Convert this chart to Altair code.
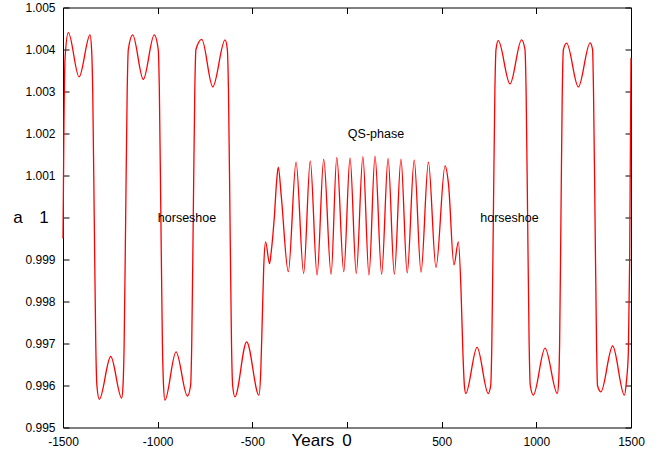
import altair as alt
import pandas as pd

# Curve samples (year, semi-major axis a)
years = [
    -1500, -1495, -1489, -1472, -1415, -1357,
    -1349, -1343, -1335, -1327, -1321, -1308,
    -1248, -1190,
    -1183, -1177, -1169, -1161, -1155, -1132,
    -1076, -1018,
    -997, -991, -983, -975, -969, -962,
    -903, -843,
    -826, -820, -812, -804, -798, -767,
    -709, -644,
    -632, -626, -618, -610, -604, -592,
    -530, -465,
    -455, -448, -440, -430,
    -409, -401, -384, -371, -363, -347,
    -310, -269, -229, -194, -158, -123, -84, -54, -17, 16, 49, 84, 116, 148,
    183, 217, 250, 285, 318, 355, 391, 430, 470, 518, 536, 565, 588,
    602, 612, 620, 627,
    687, 746,
    759, 765, 773, 781, 787, 799,
    861, 922,
    940, 946, 954, 962, 968, 984,
    1046, 1111,
    1118, 1123, 1130, 1137, 1143, 1160,
    1222, 1284,
    1297, 1302, 1310, 1318, 1323, 1341,
    1403, 1465,
    1476, 1486, 1493, 1500,
]
a_values = [
    0.9995, 1.0022, 1.0038, 1.0044, 1.00335, 1.00435,
    1.0040, 1.0030, 1.0000, 0.9970, 0.9960, 0.99567,
    0.99669, 0.99570,
    0.9960, 0.9970, 1.0000, 1.0030, 1.0040, 1.00435,
    1.00329, 1.00435,
    1.0040, 1.0030, 1.0000, 0.9970, 0.9960, 0.99565,
    0.9968, 0.99575,
    0.9960, 0.9970, 1.0000, 1.0030, 1.0040, 1.00424,
    1.00311, 1.00423,
    1.0040, 1.0030, 1.0000, 0.9970, 0.9960, 0.99573,
    0.99704, 0.99577,
    0.9964, 0.9975, 0.9988, 0.99942,
    0.99890, 0.99915, 1.0000, 1.0009, 1.0012, 1.0005,
    0.99871, 1.00132, 0.99867, 1.00135, 0.99863, 1.00139, 0.99865, 1.00143,
    0.99871, 1.00142, 0.99867, 1.00145, 0.99863, 1.00146, 0.99865, 1.00141,
    0.99865, 1.00139, 0.99868, 1.00137, 0.9987, 1.00132, 0.99881, 1.00123,
    1.0008, 0.99887, 0.99942,
    0.9983, 0.9968, 0.9960, 0.99581,
    0.99691, 0.99581,
    0.9960, 0.9970, 1.0000, 1.0030, 1.0040, 1.00421,
    1.00318, 1.00423,
    1.0040, 1.0030, 1.0000, 0.9970, 0.9960, 0.99577,
    0.99689, 0.99581,
    0.9961, 0.9970, 1.0000, 1.0030, 1.0040, 1.00415,
    1.00311, 1.00416,
    1.0040, 1.0030, 1.0000, 0.9970, 0.9960, 0.99585,
    0.99694, 0.99577,
    0.9961, 0.9968, 0.9990, 1.0038,
]

x_ticks = [-1500, -1000, -500, 0, 500, 1000, 1500]
y_ticks = [0.995, 0.996, 0.997, 0.998, 0.999, 1.0, 1.001, 1.002, 1.003, 1.004, 1.005]

note_texts = ["horseshoe", "QS-phase", "horseshoe"]
note_years = [-845, 153, 858]
note_a = [1.0, 1.002, 1.0]

df = pd.DataFrame({"year": years, "a": a_values})
notes = pd.DataFrame({"text": note_texts, "year": note_years, "a": note_a})

FONT = "Liberation Sans"
xscale = alt.Scale(domain=[-1500, 1500], nice=False, zero=False)
yscale = alt.Scale(domain=[0.995, 1.005], nice=False, zero=False)

line = alt.Chart(df).mark_line(
    color="#ff0000", strokeWidth=1.3, interpolate="monotone"
).encode(
    x=alt.X("year:Q", scale=xscale, axis=alt.Axis(
        orient="bottom", values=x_ticks, offset=-6, tickSize=6, tickColor="black",
        domain=False, grid=False, title=None, labelFont=FONT, labelFontSize=12,
        labelColor="black", labelBaseline="alphabetic", labelPadding=18,
        labelExpr="datum.value == 0 ? '' : '' + datum.value", labelFlush=False,
        labelOverlap=False)),
    y=alt.Y("a:Q", scale=yscale, axis=alt.Axis(
        orient="left", values=y_ticks, offset=-6, tickSize=6, tickColor="black",
        domain=False, grid=False, title=None, labelFont=FONT, labelFontSize=12,
        labelColor="black", labelPadding=8, labelOverlap=False,
        labelExpr="datum.value == 1 ? '' : format(datum.value, '.3f')")),
)

text_layer = alt.Chart(notes).mark_text(
    font=FONT, fontSize=12.5, color="black", align="center", baseline="middle"
).encode(
    x=alt.X("year:Q", scale=xscale, axis=alt.Axis(
        orient="top", values=x_ticks, offset=-6, tickSize=6, tickColor="black",
        labels=False, domain=False, grid=False, title=None)),
    y=alt.Y("a:Q", scale=yscale, axis=alt.Axis(
        orient="right", values=y_ticks, offset=-6, tickSize=6, tickColor="black",
        labels=False, domain=False, grid=False, title=None)),
    text="text:N",
)

side_texts = pd.DataFrame({"text": ["a", "1"], "a": [1.0, 1.0], "px": [-45, -19]})
side_label = alt.Chart(side_texts).mark_text(
    font=FONT, fontSize=17, color="black", align="center", baseline="middle"
).encode(
    x=alt.X("px:Q", scale=None, axis=None),
    y=alt.Y("a:Q", scale=yscale, axis=None),
    text="text:N",
)

bottom_texts = pd.DataFrame({"text": ["Years", "0"], "year": [-180, 0], "py": [438.5, 438.5]})
bottom_label = alt.Chart(bottom_texts).mark_text(
    font=FONT, fontSize=17, color="black", align="center", baseline="alphabetic"
).encode(
    x=alt.X("year:Q", scale=xscale, axis=None),
    y=alt.Y("py:Q", scale=None, axis=None),
    text="text:N",
)

chart = alt.layer(line, text_layer, side_label, bottom_label).resolve_axis(
    x="independent", y="independent"
).properties(
    width=568, height=420,
    autosize=alt.AutoSizeParams(type="none"),
    padding={"left": 63, "top": 7.5, "right": 32, "bottom": 25.5},
    background="white",
).configure_view(stroke="black", strokeWidth=1)

chart.save("out.html", embed_options={"renderer": "svg", "actions": False})
